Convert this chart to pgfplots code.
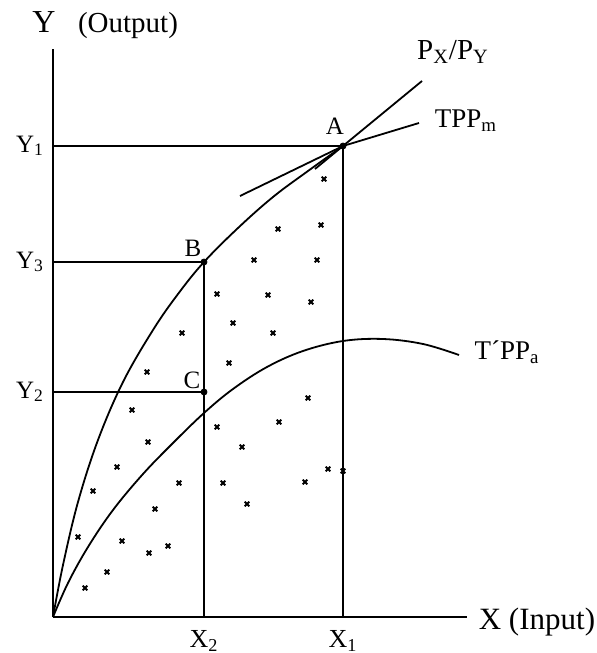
\documentclass[border=0pt]{standalone}
\usepackage{fontspec}
\setmainfont{Liberation Serif}
\usepackage{pgfplots}
\pgfplotsset{compat=1.18}

\begin{document}
\begin{tikzpicture}
\begin{axis}[
  x=0.5pt, y=0.5pt,
  xmin=0, xmax=414, ymin=0, ymax=568,
  axis lines=left,
  axis line style={line width=1.1pt, -},
  clip=false,
  xtick={151,290}, xticklabels={X\textsubscript{2}, X\textsubscript{1}},
  ytick={225,355,471}, yticklabels={Y\textsubscript{2}, Y\textsubscript{3}, Y\textsubscript{1}},
  major tick length=0pt,
  xticklabel style={anchor=center, yshift=-12pt, font=\fontsize{13}{15}\selectfont},
  yticklabel style={anchor=center, xshift=-11.5pt, font=\fontsize{12.5}{14}\selectfont},
]
% guide lines to the axes
\addplot[black, line width=1pt] coordinates {(0,471) (290,471) (290,0)};
\addplot[black, line width=1pt] coordinates {(0,355) (151,355) (151,0)};
\addplot[black, line width=1pt] coordinates {(0,225) (151,225)};
% TPP_m curve, origin to A
\addplot[black, line width=0.9pt, smooth, tension=0.6] coordinates {
  (0,0) (10,52) (25,115) (45,177) (70,235) (100,287) (125,323)
  (151,355) (185,389) (220,420) (255,446) (290,471)};
% price line P_X/P_Y through A
\addplot[black, line width=0.9pt] coordinates {(262,448) (369,536)};
% TPP_m line through A
\addplot[black, line width=0.9pt] coordinates {(187,421) (290,471) (366,494)};
% T'PP_a curve
\addplot[black, line width=0.9pt, smooth, tension=0.6] coordinates {
  (0,0) (15,34) (35,70) (60,107) (90,143) (120,174) (151,204)
  (180,228) (214,250) (250,266) (290,276) (330,278) (370,273) (406,262)};
% crosses in the shaded area
\addplot[black, only marks, mark=x, mark size=1.6pt, line width=1pt] coordinates {
  (271,438) (225,388) (268,392) (201,357) (264,357) (164,323) (215,322)
  (258,315) (180,294) (220,284) (129,284) (176,254) (94,245) (255,219)
  (226,195) (164,190) (79,207) (189,170) (95,175) (64,150) (275,148)
  (290,146) (170,134) (252,135) (194,113) (126,134) (40,126) (102,108)
  (25,80) (69,76) (115,71) (96,64) (54,45) (32,29)};
% points A, B, C
\addplot[black, only marks, mark=*, mark size=1.5pt] coordinates {(290,471) (151,355) (151,225)};

\node[font=\fontsize{16}{18}\selectfont, anchor=base] at (axis cs:-9,584) {Y};
\node[font=\fontsize{14.5}{16}\selectfont, anchor=base] at (axis cs:75,584) {(Output)};
\node[font=\fontsize{15.5}{17}\selectfont] at (axis cs:484,-5) {X (Input)};
\node[font=\fontsize{14.5}{16}\selectfont] at (axis cs:400,565) {P\textsubscript{X}/P\textsubscript{Y}};
\node[font=\fontsize{13.5}{15}\selectfont] at (axis cs:413,496) {TPP\textsubscript{m}};
\node[font=\fontsize{13.5}{15}\selectfont] at (axis cs:454,265) {T´PP\textsubscript{a}};
\node[font=\fontsize{12.5}{14}\selectfont] at (axis cs:282,491) {A};
\node[font=\fontsize{12.5}{14}\selectfont] at (axis cs:140,369) {B};
\node[font=\fontsize{12.5}{14}\selectfont] at (axis cs:139,237) {C};

\coordinate (bbl) at (axis cs:-53,-36);
\coordinate (btr) at (axis cs:544,617);
\end{axis}
\pgfresetboundingbox
\useasboundingbox (bbl) rectangle (btr);
\end{tikzpicture}
\end{document}
